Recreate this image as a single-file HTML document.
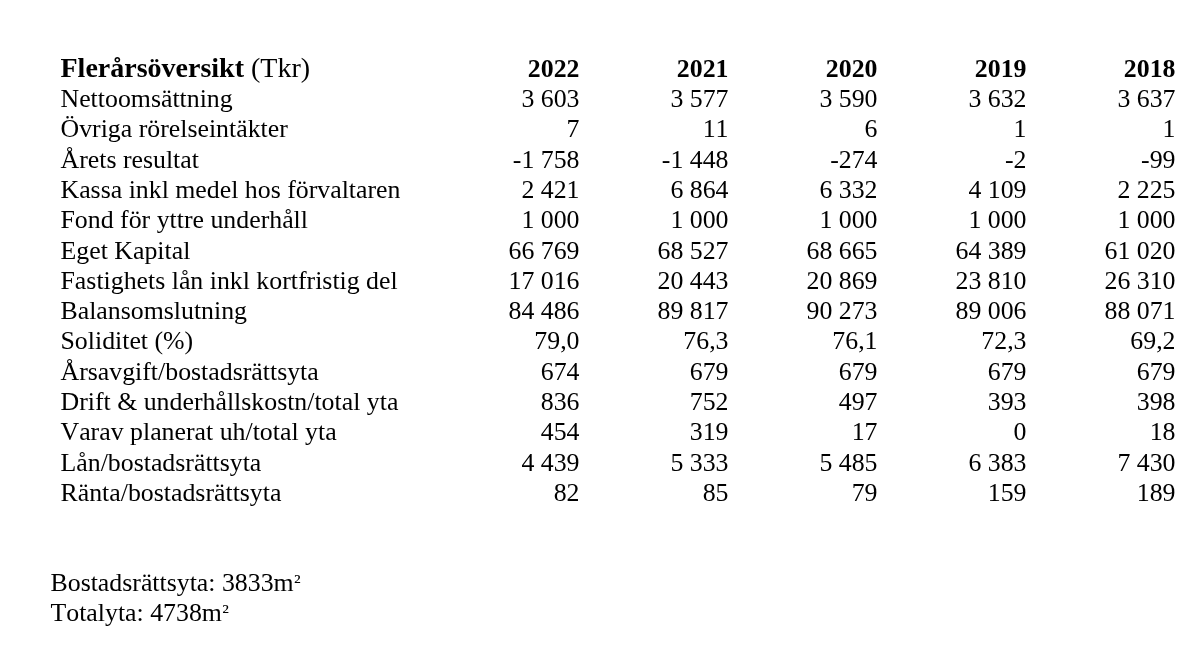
<!DOCTYPE html>
<html lang="sv">
<head>
<meta charset="utf-8">
<title>Flerårsöversikt</title>
<style>
html,body{margin:0;padding:0;background:#fff;}
body{width:1193px;height:666px;position:relative;overflow:hidden;font-family:"Liberation Serif",serif;font-size:25.83px;line-height:30.0px;color:#000;font-kerning:none;font-variant-ligatures:none;letter-spacing:0.0px;}
.r{position:absolute;left:0;width:1193px;height:30.0px;white-space:nowrap;}
.l{position:absolute;left:60.5px;top:0;}
.n{position:absolute;top:0;text-align:right;width:140px;}
.h .n{font-weight:bold;}
.h .l{font-size:28.0px;top:-0.8px;}
.s{display:inline-block;font-size:0.86em;line-height:1;transform:translate(0.2px,-1.9px) scaleY(0.87);transform-origin:50% 50%;}
.f{position:absolute;left:50.5px;white-space:nowrap;}
</style>
</head>
<body>
<div class="r h" style="top:53.70px"><span class="l"><b>Flerårsöversikt</b> (Tkr)</span><span class="n" style="left:439.50px">2022</span><span class="n" style="left:588.50px">2021</span><span class="n" style="left:737.50px">2020</span><span class="n" style="left:886.50px">2019</span><span class="n" style="left:1035.50px">2018</span></div>
<div class="r" style="top:84.01px"><span class="l">Nettoomsättning</span><span class="n" style="left:439.50px">3 603</span><span class="n" style="left:588.50px">3 577</span><span class="n" style="left:737.50px">3 590</span><span class="n" style="left:886.50px">3 632</span><span class="n" style="left:1035.50px">3 637</span></div>
<div class="r" style="top:114.32px"><span class="l">Övriga rörelseintäkter</span><span class="n" style="left:439.50px">7</span><span class="n" style="left:588.50px">11</span><span class="n" style="left:737.50px">6</span><span class="n" style="left:886.50px">1</span><span class="n" style="left:1035.50px">1</span></div>
<div class="r" style="top:144.63px"><span class="l">Årets resultat</span><span class="n" style="left:439.50px">-1 758</span><span class="n" style="left:588.50px">-1 448</span><span class="n" style="left:737.50px">-274</span><span class="n" style="left:886.50px">-2</span><span class="n" style="left:1035.50px">-99</span></div>
<div class="r" style="top:174.94px"><span class="l">Kassa inkl medel hos förvaltaren</span><span class="n" style="left:439.50px">2 421</span><span class="n" style="left:588.50px">6 864</span><span class="n" style="left:737.50px">6 332</span><span class="n" style="left:886.50px">4 109</span><span class="n" style="left:1035.50px">2 225</span></div>
<div class="r" style="top:205.25px"><span class="l">Fond för yttre underhåll</span><span class="n" style="left:439.50px">1 000</span><span class="n" style="left:588.50px">1 000</span><span class="n" style="left:737.50px">1 000</span><span class="n" style="left:886.50px">1 000</span><span class="n" style="left:1035.50px">1 000</span></div>
<div class="r" style="top:235.56px"><span class="l">Eget Kapital</span><span class="n" style="left:439.50px">66 769</span><span class="n" style="left:588.50px">68 527</span><span class="n" style="left:737.50px">68 665</span><span class="n" style="left:886.50px">64 389</span><span class="n" style="left:1035.50px">61 020</span></div>
<div class="r" style="top:265.87px"><span class="l">Fastighets lån inkl kortfristig del</span><span class="n" style="left:439.50px">17 016</span><span class="n" style="left:588.50px">20 443</span><span class="n" style="left:737.50px">20 869</span><span class="n" style="left:886.50px">23 810</span><span class="n" style="left:1035.50px">26 310</span></div>
<div class="r" style="top:296.18px"><span class="l">Balansomslutning</span><span class="n" style="left:439.50px">84 486</span><span class="n" style="left:588.50px">89 817</span><span class="n" style="left:737.50px">90 273</span><span class="n" style="left:886.50px">89 006</span><span class="n" style="left:1035.50px">88 071</span></div>
<div class="r" style="top:326.49px"><span class="l">Soliditet (%)</span><span class="n" style="left:439.50px">79,0</span><span class="n" style="left:588.50px">76,3</span><span class="n" style="left:737.50px">76,1</span><span class="n" style="left:886.50px">72,3</span><span class="n" style="left:1035.50px">69,2</span></div>
<div class="r" style="top:356.80px"><span class="l">Årsavgift/bostadsrättsyta</span><span class="n" style="left:439.50px">674</span><span class="n" style="left:588.50px">679</span><span class="n" style="left:737.50px">679</span><span class="n" style="left:886.50px">679</span><span class="n" style="left:1035.50px">679</span></div>
<div class="r" style="top:387.11px"><span class="l">Drift &amp; underhållskostn/total yta</span><span class="n" style="left:439.50px">836</span><span class="n" style="left:588.50px">752</span><span class="n" style="left:737.50px">497</span><span class="n" style="left:886.50px">393</span><span class="n" style="left:1035.50px">398</span></div>
<div class="r" style="top:417.42px"><span class="l">Varav planerat uh/total yta</span><span class="n" style="left:439.50px">454</span><span class="n" style="left:588.50px">319</span><span class="n" style="left:737.50px">17</span><span class="n" style="left:886.50px">0</span><span class="n" style="left:1035.50px">18</span></div>
<div class="r" style="top:447.73px"><span class="l">Lån/bostadsrättsyta</span><span class="n" style="left:439.50px">4 439</span><span class="n" style="left:588.50px">5 333</span><span class="n" style="left:737.50px">5 485</span><span class="n" style="left:886.50px">6 383</span><span class="n" style="left:1035.50px">7 430</span></div>
<div class="r" style="top:478.04px"><span class="l">Ränta/bostadsrättsyta</span><span class="n" style="left:439.50px">82</span><span class="n" style="left:588.50px">85</span><span class="n" style="left:737.50px">79</span><span class="n" style="left:886.50px">159</span><span class="n" style="left:1035.50px">189</span></div>
<div class="f" style="top:567.80px">Bostadsrättsyta: 3833m<span class="s">²</span></div>
<div class="f" style="top:597.50px">Totalyta: 4738m<span class="s">²</span></div>
</body>
</html>
